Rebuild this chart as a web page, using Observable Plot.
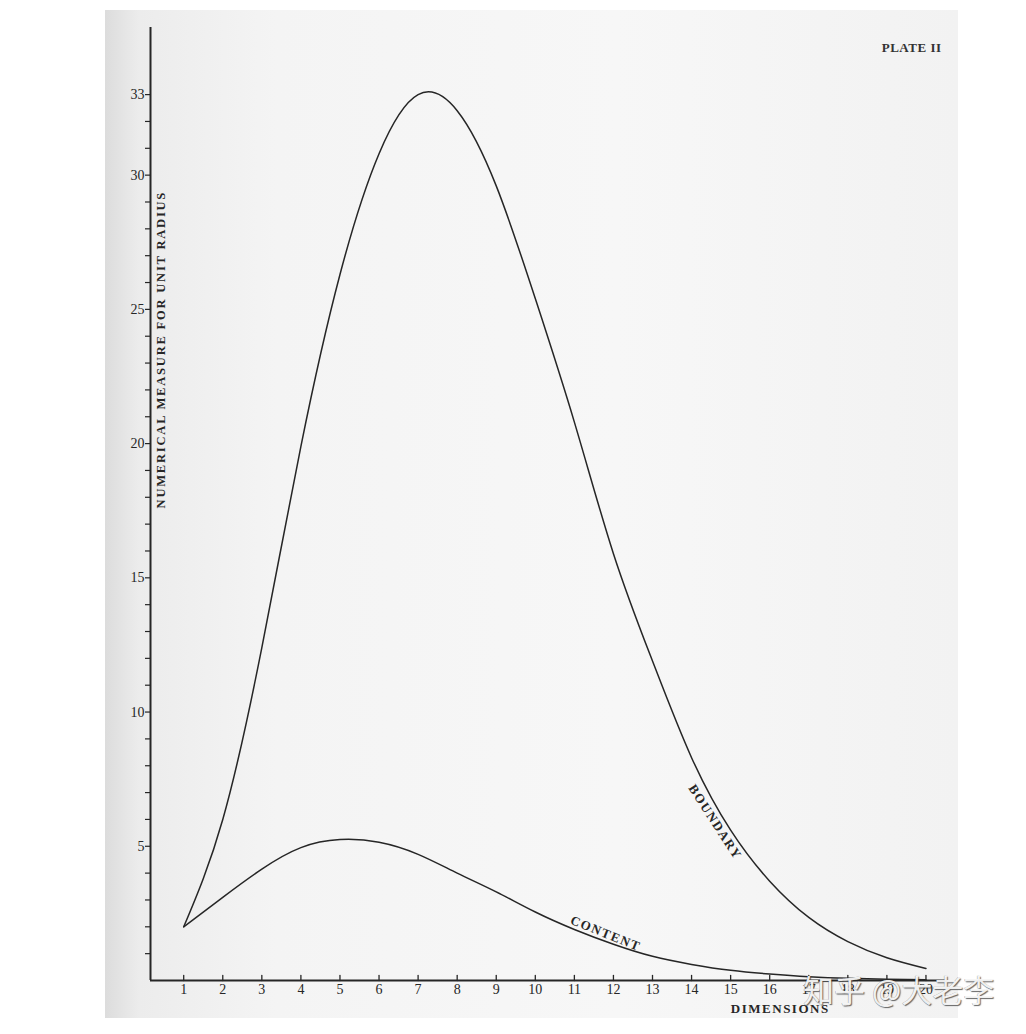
<!DOCTYPE html>
<html>
<head>
<meta charset="utf-8">
<script src="https://cdn.jsdelivr.net/npm/d3@7"></script>
<script src="https://cdn.jsdelivr.net/npm/@observablehq/plot@0.6"></script>
<style>
  html, body { margin: 0; padding: 0; background: #ffffff; width: 1026px; height: 1034px; overflow: hidden; }
  #paper {
    position: absolute; left: 105px; top: 10px; width: 853px; height: 1008px;
    background: linear-gradient(to right, #dcdcdc 0%, #ececec 4%, #f4f4f4 20%, #f7f7f7 60%, #f2f2f2 100%);
  }
  #wm {
    position: absolute; left: 803px; top: 966px; font-family: "Noto Sans CJK SC"; font-size: 31px;
    color: rgba(255,255,255,0.92); white-space: nowrap;
    text-shadow: 1px 1px 1px rgba(40,40,40,0.7), -0.5px -0.5px 0.5px rgba(40,40,40,0.4);
  }
</style>
</head>
<body>
<div id="paper"></div>
<div id="wm">知乎 @大老李</div>
<script>
// Data read from the plate
const dimensions = [1,2,3,4,5,6,7,8,9,10,11,12,13,14,15,16,17,18,19,20];
const boundary = [2.0, 6.0, 12.4, 19.9, 26.3, 30.8, 33.0, 32.4, 29.6, 25.4, 20.8, 15.9, 11.9, 8.3, 5.6, 3.7, 2.35, 1.45, 0.85, 0.45];
const content  = [2.0, 3.1, 4.15, 4.95, 5.25, 5.15, 4.7, 4.0, 3.3, 2.55, 1.9, 1.35, 0.9, 0.6, 0.38, 0.24, 0.14, 0.08, 0.05, 0.03];
const yTicks = d3.range(1, 34);
const yTickLabels = [5, 10, 15, 20, 25, 30, 33];
const xTickLabels = dimensions;

const plateTitle = "PLATE II";
const yTitle = "NUMERICAL MEASURE FOR UNIT RADIUS";
const xTitle = "DIMENSIONS";
const boundaryLabel = "BOUNDARY";
const contentLabel = "CONTENT";

const boundaryData = dimensions.map((d, i) => ({n: d, v: boundary[i]}));
const contentData = dimensions.map((d, i) => ({n: d, v: content[i]}));

const xMin = 0.15, xMax = 20.5;
const ink = "#262626";
const serif = "Liberation Serif, DejaVu Serif, serif";

const tickShape = {draw(ctx, l) { ctx.moveTo(0, 0); ctx.lineTo(0, -l); }};

const chart = Plot.plot({
  width: 853,
  height: 1008,
  marginLeft: 45,
  marginTop: 17,
  marginBottom: 38,
  marginRight: 13,
  x: {domain: [xMin, xMax]},
  y: {domain: [0, 35.5]},
  style: {background: "transparent", fontFamily: serif, color: ink},
  marks: [
    Plot.axisY({ticks: yTicks, tickSize: 5, tickPadding: 1, tickFormat: d => yTickLabels.includes(d) ? String(d) : "", fontSize: 14, label: null, stroke: ink, strokeWidth: 1.2}),
    Plot.axisX({ticks: xTickLabels, tickSize: 0, tickPadding: 4, fontSize: 14, label: null}),
    Plot.vector(xTickLabels, {x: d => d, y: 0, length: 5, anchor: "start", shape: tickShape, stroke: ink, strokeWidth: 1.3}),
    Plot.ruleY([0], {stroke: ink, strokeWidth: 2}),
    Plot.ruleX([xMin], {stroke: ink, strokeWidth: 2}),
    Plot.line(boundaryData, {x: "n", y: "v", curve: "natural", stroke: ink, strokeWidth: 1.5}),
    Plot.line(contentData, {x: "n", y: "v", curve: "natural", stroke: ink, strokeWidth: 1.5}),
    Plot.text([yTitle], {x: xMin, y: 23.5, dx: 10, rotate: -90, fontSize: 12.5, fontWeight: "bold", fill: ink}),
    Plot.text([xTitle], {x: 16.27, y: 0, dy: 28, fontSize: 13, fontWeight: "bold", fill: ink}),
    Plot.text([boundaryLabel], {x: 14.6, y: 5.9, rotate: 57, fontSize: 13, fontWeight: "bold", fill: ink}),
    Plot.text([contentLabel], {x: 11.8, y: 1.75, rotate: 22, fontSize: 13, fontWeight: "bold", fill: ink}),
    Plot.text([plateTitle], {frameAnchor: "top-right", dx: -4, dy: 15, textAnchor: "end", fontSize: 13, fontWeight: "bold", fill: "#333"})
  ]
});

chart.style.position = "absolute";
chart.style.left = "105px";
chart.style.top = "10px";

const spacing = {};
spacing[yTitle] = "1.8px";
spacing[xTitle] = "1.5px";
spacing[boundaryLabel] = "1.5px";
spacing[contentLabel] = "1.5px";
spacing[plateTitle] = "0.5px";
chart.querySelectorAll("text").forEach(t => {
  const s = spacing[t.textContent];
  if (s) t.style.letterSpacing = s;
});

document.body.insertBefore(chart, document.getElementById("wm"));
</script>
</body>
</html>
